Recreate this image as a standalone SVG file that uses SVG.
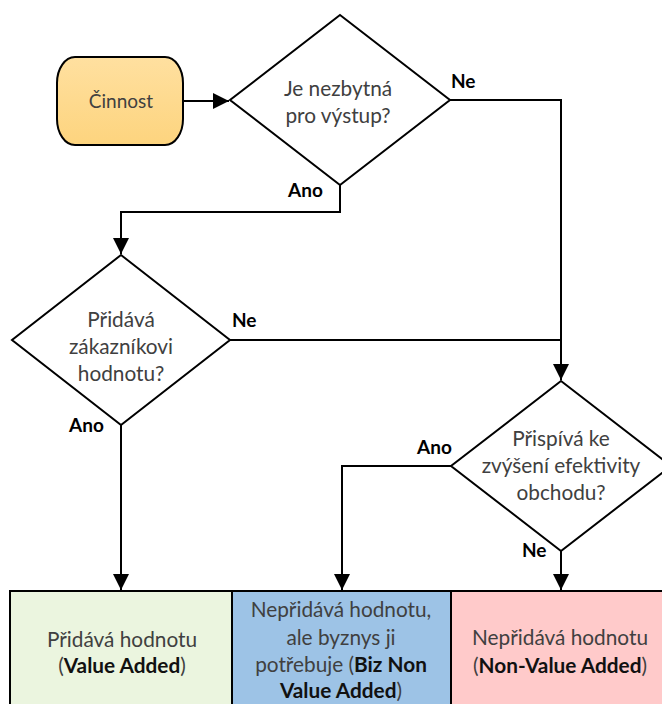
<svg xmlns="http://www.w3.org/2000/svg" width="662" height="704" viewBox="0 0 662 704">
  <style>
    .shape { stroke: #000; stroke-width: 2; }
    .dia { fill: #fff; stroke: #000; stroke-width: 2; stroke-linejoin: miter; }
    .txt { font-family: Lato, "Liberation Sans", sans-serif; font-size: 20.8px; fill: #404040; text-anchor: middle; }
    .b { font-weight: bold; fill: #111; }
    .lbl { font-family: Lato, "Liberation Sans", sans-serif; font-size: 19px; font-weight: bold; fill: #000; }
    .con { fill: none; stroke: #000; stroke-width: 2; }
  </style>
  <defs>
    <linearGradient id="orange" x1="0" y1="0" x2="0" y2="1">
      <stop offset="0" stop-color="#FFE0A0"/>
      <stop offset="1" stop-color="#FDD47E"/>
    </linearGradient>
    <marker id="arr" markerUnits="userSpaceOnUse" markerWidth="16" markerHeight="16" viewBox="0 0 16 16" refX="16" refY="8" orient="auto">
      <path d="M0,0 L16,8 L0,16 z" fill="#000"/>
    </marker>
  </defs>

  <g id="connectors">
    <path class="con" d="M183,101 L229,101" marker-end="url(#arr)"/>
    <path class="con" d="M450,100 L561,100 L561,380" marker-end="url(#arr)"/>
    <path class="con" d="M340,185 L340,212 L121,212 L121,254" marker-end="url(#arr)"/>
    <path class="con" d="M230,340 L561,340"/>
    <path class="con" d="M121,425 L121,590" marker-end="url(#arr)"/>
    <path class="con" d="M451,466 L342,466 L342,590" marker-end="url(#arr)"/>
    <path class="con" d="M561,551 L561,590" marker-end="url(#arr)"/>
    <text class="lbl" x="451" y="88">Ne</text>
    <text class="lbl" x="288" y="197">Ano</text>
    <text class="lbl" x="232" y="327">Ne</text>
    <text class="lbl" x="69" y="432">Ano</text>
    <text class="lbl" x="417" y="454">Ano</text>
    <text class="lbl" x="522" y="557">Ne</text>
  </g>

  <g id="cinnost">
    <rect class="shape" x="57" y="57" width="126" height="88" rx="18" ry="26" fill="url(#orange)"/>
    <text class="txt" x="121" y="108" style="font-size:19px">Činnost</text>
  </g>

  <g id="d1">
    <polygon class="dia" points="340,15 450,100 340,185 230,100"/>
    <text class="txt" x="338" y="96">Je nezbytná</text>
    <text class="txt" x="338" y="123">pro výstup?</text>
  </g>

  <g id="d2">
    <polygon class="dia" points="121,255 230,340 121,425 12,340"/>
    <text class="txt" x="121" y="327">Přidává</text>
    <text class="txt" x="121" y="354">zákazníkovi</text>
    <text class="txt" x="121" y="381">hodnotu?</text>
  </g>

  <g id="d3">
    <polygon class="dia" points="561,381 671,466 561,551 451,466"/>
    <text class="txt" x="561" y="446">Přispívá ke</text>
    <text class="txt" x="561" y="473">zvýšení efektivity</text>
    <text class="txt" x="561" y="500">obchodu?</text>
  </g>

  <g id="va">
    <rect class="shape" x="10" y="591" width="222" height="125" fill="#EBF5DF"/>
    <text class="txt" x="122" y="647">Přidává hodnotu</text>
    <text class="txt" x="122" y="673">(<tspan class="b">Value Added</tspan>)</text>
  </g>

  <g id="bnva">
    <rect class="shape" x="232" y="591" width="219" height="125" fill="#9DC3E6"/>
    <text class="txt" x="341" y="617">Nepřidává hodnotu,</text>
    <text class="txt" x="341" y="645">ale byznys ji</text>
    <text class="txt" x="341" y="672">potřebuje (<tspan class="b">Biz Non</tspan></text>
    <text class="txt" x="341" y="698"><tspan class="b">Value Added</tspan>)</text>
  </g>

  <g id="nva">
    <rect class="shape" x="451" y="591" width="222" height="125" fill="#FFCACA"/>
    <text class="txt" x="560" y="645">Nepřidává hodnotu</text>
    <text class="txt" x="560" y="673">(<tspan class="b">Non-Value Added</tspan>)</text>
  </g>
</svg>
